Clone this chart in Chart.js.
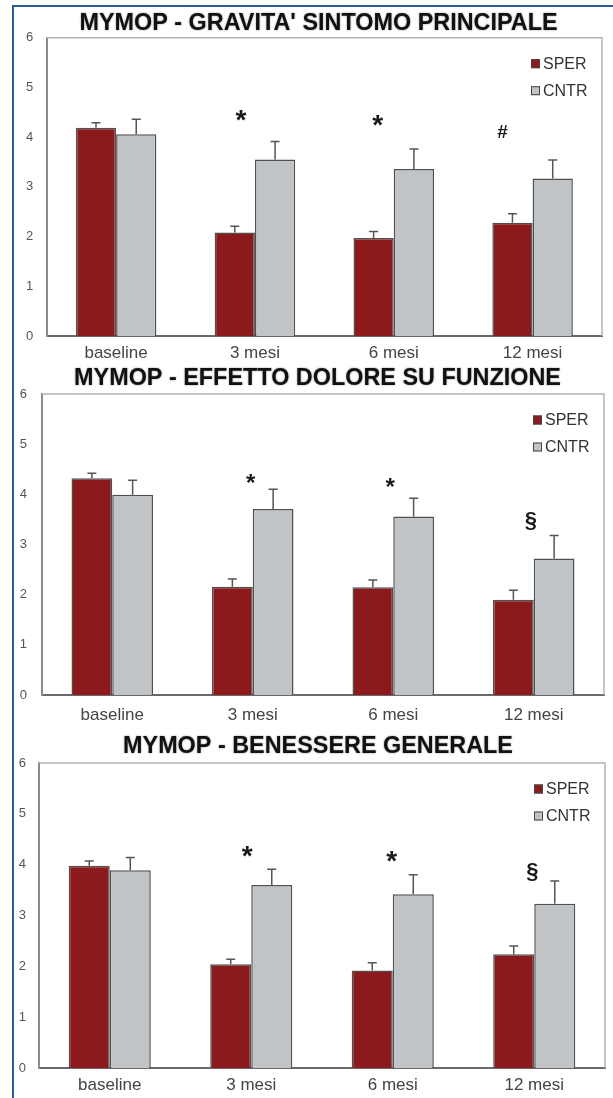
<!DOCTYPE html>
<html>
<head>
<meta charset="utf-8">
<script src="https://cdn.jsdelivr.net/npm/chart.js@4"></script>
<style>
  html, body { margin: 0; padding: 0; background: #fff; }
  body { width: 613px; height: 1098px; position: relative; overflow: hidden; }
  #edge { position: absolute; left: 12px; top: 5px; right: -4px; bottom: -4px;
          border-left: 2px solid #2b5d9b; border-top: 2px solid #2b5d9b; }
  canvas { position: absolute; left: 0; }
</style>
</head>
<body>
<div id="edge"></div>
<canvas id="c1" width="613" height="360" style="top:0px"></canvas>
<canvas id="c2" width="613" height="365" style="top:360px"></canvas>
<canvas id="c3" width="613" height="373" style="top:725px"></canvas>
<script>
// ---- data ----
const categories = ['baseline', '3 mesi', '6 mesi', '12 mesi'];
const seriesNames = ['SPER', 'CNTR'];
const yTicks = [0, 1, 2, 3, 4, 5, 6];

// Gravita' sintomo principale: means and upper error (SE)
const gravitaSper = [4.19, 2.08, 1.97, 2.28];
const gravitaSperErr = [0.10, 0.13, 0.13, 0.18];
const gravitaCntr = [4.06, 3.55, 3.36, 3.17];
const gravitaCntrErr = [0.30, 0.36, 0.40, 0.37];
const gravitaMarks = ['', '*', '*', '#'];

// Effetto dolore su funzione
const doloreSper = [4.32, 2.16, 2.15, 1.90];
const doloreSperErr = [0.10, 0.15, 0.14, 0.19];
const doloreCntr = [3.99, 3.71, 3.56, 2.72];
const doloreCntrErr = [0.29, 0.39, 0.36, 0.46];
const doloreMarks = ['', '*', '*', '§'];

// Benessere generale
const benessereSper = [3.98, 2.04, 1.92, 2.24];
const benessereSperErr = [0.09, 0.10, 0.15, 0.16];
const benessereCntr = [3.89, 3.60, 3.42, 3.23];
const benessereCntrErr = [0.25, 0.31, 0.38, 0.45];
const benessereMarks = ['', '*', '*', '§'];

// ---- styling ----
const FONT = '"Liberation Sans", Arial, Helvetica, sans-serif';
Chart.defaults.font.family = FONT;
const SPER_COLOR = '#8c1a1c';
const CNTR_COLOR = '#c1c4c7';
const EDGE_COLOR = '#505050';

// bold heading above each plot
const panelTitle = {
  id: 'panelTitle',
  afterDraw(chart, args, opts) {
    const { ctx } = chart;
    ctx.save();
    ctx.font = 'bold 23.4px ' + FONT;
    ctx.textAlign = 'center';
    ctx.textBaseline = 'alphabetic';
    ctx.fillStyle = '#111';
    ctx.shadowColor = 'rgba(0,0,0,0.45)';
    ctx.shadowBlur = 2;
    ctx.fillText(opts.text, opts.cx, opts.baseline);
    ctx.restore();
  }
};

// upper-only error bars with a short cap
const errorBars = {
  id: 'errorBars',
  afterDatasetsDraw(chart) {
    const ctx = chart.ctx, y = chart.scales.y;
    ctx.save();
    ctx.strokeStyle = '#555';
    ctx.lineWidth = 1.5;
    chart.data.datasets.forEach((ds, i) => {
      const meta = chart.getDatasetMeta(i);
      meta.data.forEach((bar, j) => {
        const top = y.getPixelForValue(ds.data[j] + ds.errors[j]);
        ctx.beginPath();
        ctx.moveTo(bar.x, bar.y);
        ctx.lineTo(bar.x, top);
        ctx.moveTo(bar.x - 4.5, top);
        ctx.lineTo(bar.x + 4.5, top);
        ctx.stroke();
      });
    });
    ctx.restore();
  }
};

// top and right edges of the plot frame
const plotFrame = {
  id: 'plotFrame',
  beforeDatasetsDraw(chart) {
    const { ctx, chartArea: a } = chart;
    ctx.save();
    ctx.strokeStyle = '#b4b4b4';
    ctx.lineWidth = 1.5;
    ctx.beginPath();
    ctx.moveTo(a.left, a.top);
    ctx.lineTo(a.right, a.top);
    ctx.lineTo(a.right, a.bottom);
    ctx.stroke();
    ctx.restore();
  }
};

// significance symbols above the groups
const sigMarks = {
  id: 'sigMarks',
  afterDatasetsDraw(chart, args, opts) {
    const { ctx } = chart, x = chart.scales.x, y = chart.scales.y;
    ctx.save();
    ctx.fillStyle = '#1a1a1a';
    ctx.textAlign = 'center';
    ctx.textBaseline = 'alphabetic';
    opts.marks.forEach((m, i) => {
      if (!m) return;
      ctx.font = 'bold ' + opts.sizes[i] + 'px ' + FONT;
      const tm = ctx.measureText(m);
      const cy = y.getPixelForValue(opts.levels[i]);
      const base = cy + (tm.actualBoundingBoxAscent - tm.actualBoundingBoxDescent) / 2;
      ctx.fillText(m, x.getPixelForValue(i) + opts.dx[i], base);
    });
    ctx.restore();
  }
};

// legend inside the plot's upper right corner
const innerLegend = {
  id: 'innerLegend',
  afterDraw(chart) {
    const { ctx, chartArea: a } = chart;
    ctx.save();
    ctx.font = '16px ' + FONT;
    ctx.textBaseline = 'middle';
    ctx.textAlign = 'left';
    chart.data.datasets.forEach((ds, i) => {
      const cy = a.top + 26 + i * 27;
      const sx = a.right - 71;
      ctx.fillStyle = ds.backgroundColor;
      ctx.fillRect(sx, cy - 4.5, 9, 9);
      ctx.strokeStyle = '#444';
      ctx.lineWidth = 1;
      ctx.strokeRect(sx + 0.5, cy - 4, 8, 8);
      ctx.fillStyle = '#333';
      ctx.fillText(ds.label, sx + 12, cy + 0.5);
    });
    ctx.restore();
  }
};

function makePanel(id, title, sper, sperErr, cntr, cntrErr, marks, geo) {
  new Chart(document.getElementById(id), {
    type: 'bar',
    data: {
      labels: categories,
      datasets: [
        { label: seriesNames[0], data: sper, errors: sperErr,
          backgroundColor: SPER_COLOR, borderColor: EDGE_COLOR, borderWidth: 1.5 },
        { label: seriesNames[1], data: cntr, errors: cntrErr,
          backgroundColor: CNTR_COLOR, borderColor: EDGE_COLOR, borderWidth: 1.5 }
      ]
    },
    options: {
      responsive: false,
      animation: false,
      categoryPercentage: 0.58,
      barPercentage: 1.0,
      layout: { padding: { left: geo.padLeft, right: geo.padRight, top: geo.padTop, bottom: 0 } },
      plugins: {
        legend: { display: false },
        tooltip: { enabled: false },
        title: { display: false },
        panelTitle: { text: title, cx: geo.titleX, baseline: geo.titleBase },
        sigMarks: { marks: marks, levels: geo.markLevels, dx: geo.markDx, sizes: geo.markSizes }
      },
      scales: {
        x: {
          grid: { display: false, drawTicks: false },
          border: { color: '#6a6a6a', width: 2 },
          ticks: { color: '#444', font: { size: 17 }, padding: geo.xPad },
          afterFit(s) { s.height = geo.xHeight; }
        },
        y: {
          min: 0, max: 6,
          afterBuildTicks(s) { s.ticks = yTicks.map(v => ({ value: v })); },
          grid: { display: false, drawTicks: false },
          border: { color: '#8c8c8c', width: 2 },
          ticks: { color: '#555', font: { size: 13 }, padding: geo.yPad },
          afterFit(s) { s.width = geo.yWidth; }
        }
      }
    },
    plugins: [plotFrame, errorBars, sigMarks, innerLegend, panelTitle]
  });
}

makePanel('c1', "MYMOP - GRAVITA' SINTOMO PRINCIPALE",
  gravitaSper, gravitaSperErr, gravitaCntr, gravitaCntrErr, gravitaMarks,
  { padLeft: 14, padRight: 11, padTop: 37.7, yWidth: 32.7, yPad: 13.5, xHeight: 24, xPad: 6.8,
    titleX: 318.5, titleBase: 30,
    markLevels: [0, 4.44, 4.34, 4.12], markDx: [0, -14, -16, -30], markSizes: [0, 28, 28, 19] });

makePanel('c2', 'MYMOP - EFFETTO DOLORE SU FUNZIONE',
  doloreSper, doloreSperErr, doloreCntr, doloreCntrErr, doloreMarks,
  { padLeft: 14, padRight: 9, padTop: 34, yWidth: 28, yPad: 15, xHeight: 30, xPad: 9.8,
    titleX: 317.5, titleBase: 25,
    markLevels: [0, 4.32, 4.23, 3.46], markDx: [0, -2, -3, -3], markSizes: [0, 24, 24, 22] });

makePanel('c3', 'MYMOP - BENESSERE GENERALE',
  benessereSper, benessereSperErr, benessereCntr, benessereCntrErr, benessereMarks,
  { padLeft: 14, padRight: 8, padTop: 38, yWidth: 25, yPad: 13, xHeight: 30, xPad: 6.8,
    titleX: 318, titleBase: 28,
    markLevels: [0, 4.25, 4.16, 3.86], markDx: [0, -4, -1, -2], markSizes: [0, 28, 28, 22] });
</script>
</body>
</html>
